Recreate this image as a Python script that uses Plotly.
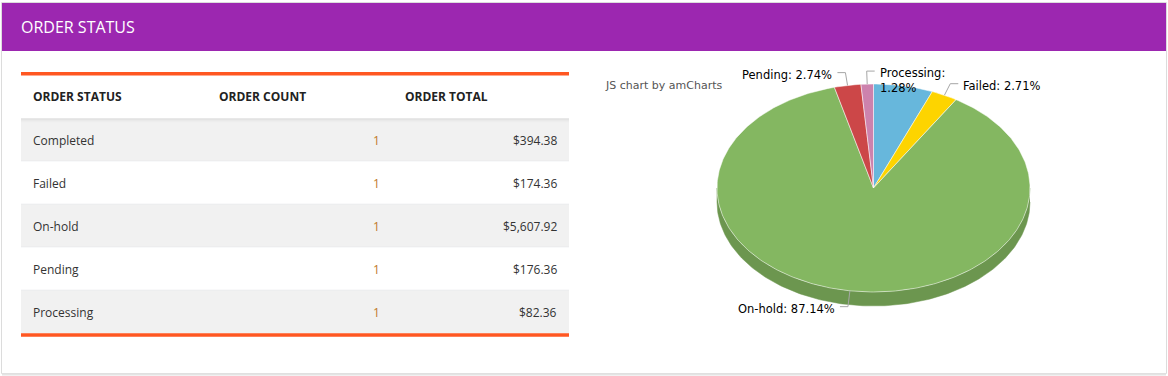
import numpy as np
import plotly.graph_objects as go

# ---------------- data ----------------
statuses = ["Completed", "Failed", "On-hold", "Pending", "Processing"]
order_counts = [1, 1, 1, 1, 1]
order_totals = [394.38, 174.36, 5607.92, 176.36, 82.36]
columns = ["ORDER STATUS", "ORDER COUNT", "ORDER TOTAL"]
slice_colors = ["#67b7dc", "#fdd400", "#84b761", "#cc4748", "#cd82ad"]

# ---------------- layout constants ----------------
W, H = 1168, 376
FONT = "Open Sans"
PIE_FONT = "DejaVu Sans"
TXT_L, TXT_R = -1, 1   # small nudges compensating glyph bearings

fig = go.Figure()
shapes = []
annotations = []

# panel
shapes.append(dict(type="rect", xref="x", yref="y", x0=1.5, y0=2.5, x1=1166.5, y1=373.5,
                   line=dict(color="#dcdcdc", width=1), fillcolor="white", layer="below"))
shapes.append(dict(type="line", xref="x", yref="y", x0=2, y0=374.5, x1=1166, y1=374.5,
                   line=dict(color="#e4e4e4", width=2), layer="below"))
# header bar
shapes.append(dict(type="rect", xref="x", yref="y", x0=2, y0=3, x1=1166, y1=51,
                   line=dict(width=0), fillcolor="#9c27b0", layer="below"))
annotations.append(dict(x=21 + TXT_L, y=27, xref="x", yref="y", text="ORDER STATUS",
                        showarrow=False, xanchor="left", yanchor="middle", borderpad=0,
                        font=dict(family=FONT, size=16, color="white")))

# ---------------- table ----------------
col_edges = [21, 207, 393, 569]
pad = 12
head_top, head_bot = 75, 118.3
row_h = 43
orange = "#ff5722"

for i, name in enumerate(statuses):
    y0 = head_bot + i * row_h
    y1 = y0 + row_h
    fill = "#f1f1f1" if i % 2 == 0 else "#ffffff"
    shapes.append(dict(type="rect", xref="x", yref="y", x0=col_edges[0], x1=col_edges[-1],
                       y0=y0, y1=y1, line=dict(width=0), fillcolor=fill, layer="below"))
    if i < len(statuses) - 1:
        shapes.append(dict(type="line", xref="x", yref="y", x0=col_edges[0], x1=col_edges[-1],
                           y0=y1, y1=y1, line=dict(color="#dee2e6", width=1), layer="below"))
    yc = (y0 + y1) / 2 + 0.5
    annotations.append(dict(x=col_edges[0] + pad + TXT_L, y=yc, xref="x", yref="y", text=name,
                            showarrow=False, xanchor="left", yanchor="middle", borderpad=0,
                            font=dict(family=FONT, size=12, color="#333333")))
    annotations.append(dict(x=col_edges[2] - pad, y=yc, xref="x", yref="y",
                            text=str(order_counts[i]), showarrow=False, xanchor="right",
                            yanchor="middle", borderpad=0,
                            font=dict(family=FONT, size=12, color="#c07a2a")))
    annotations.append(dict(x=col_edges[3] - pad + TXT_R, y=yc, xref="x", yref="y",
                            text="${:,.2f}".format(order_totals[i]), showarrow=False,
                            xanchor="right", yanchor="middle", borderpad=0,
                            font=dict(family=FONT, size=12, color="#333333")))

# header shadow
for k, a in enumerate([0.07, 0.05, 0.03, 0.015]):
    yy = head_bot + 0.5 + k
    shapes.append(dict(type="line", xref="x", yref="y", x0=col_edges[0], x1=col_edges[-1],
                       y0=yy, y1=yy, line=dict(color=f"rgba(0,0,0,{a})", width=1), layer="below"))

# header labels
for j, c in enumerate(columns):
    annotations.append(dict(x=col_edges[j] + pad + TXT_L, y=(head_top + head_bot) / 2,
                            xref="x", yref="y", text="<b>" + c + "</b>", showarrow=False,
                            xanchor="left", yanchor="middle", borderpad=0,
                            font=dict(family=FONT, size=12, color="#222222")))

# orange rules
tbl_bottom = head_bot + len(statuses) * row_h
shapes.append(dict(type="rect", xref="x", yref="y", x0=col_edges[0], x1=col_edges[-1],
                   y0=72, y1=75.5, line=dict(width=0), fillcolor=orange, layer="below"))
shapes.append(dict(type="rect", xref="x", yref="y", x0=col_edges[0], x1=col_edges[-1],
                   y0=tbl_bottom, y1=tbl_bottom + 3.5, line=dict(width=0), fillcolor=orange,
                   layer="below"))

# ---------------- 3D-ish pie ----------------
cx, cy, rx, ry, depth = 873.5, 188.0, 156.5, 104.0, 14.0
total = float(sum(order_totals))
fracs = np.array(order_totals) / total
starts = np.concatenate([[0.0], np.cumsum(fracs)[:-1]]) * 2 * np.pi
ends = starts + fracs * 2 * np.pi


def arc(a0, a1):
    n = max(3, int(abs(a1 - a0) / (2 * np.pi) * 400))
    t = np.linspace(a0, a1, n)
    return cx + rx * np.sin(t), cy - ry * np.cos(t)


def darker(hexc, f=0.82):
    h = hexc.lstrip("#")
    r, g, b = (int(h[k:k + 2], 16) for k in (0, 2, 4))
    return "rgb({},{},{})".format(int(r * f), int(g * f), int(b * f))


# sides (front half only)
for i in range(len(statuses)):
    lo, hi = max(starts[i], np.pi / 2), min(ends[i], 1.5 * np.pi)
    if hi > lo:
        xs, ys = arc(lo, hi)
        px = np.concatenate([xs, xs[::-1]])
        py = np.concatenate([ys, (ys + depth)[::-1]])
        fig.add_trace(go.Scatter(x=px, y=py, mode="lines", fill="toself",
                                 fillcolor=darker(slice_colors[i]),
                                 line=dict(color=darker(slice_colors[i]), width=0.5),
                                 hoverinfo="skip", showlegend=False))

# top faces
for i in range(len(statuses)):
    xs, ys = arc(starts[i], ends[i])
    px = np.concatenate([[cx], xs, [cx]])
    py = np.concatenate([[cy], ys, [cy]])
    fig.add_trace(go.Scatter(x=px, y=py, mode="lines", fill="toself",
                             fillcolor=slice_colors[i],
                             line=dict(color="rgba(255,255,255,0.5)", width=1),
                             name=statuses[i], hoverinfo="skip", showlegend=False))

# labels with ticks
label_side = {"Failed": 1, "On-hold": -1, "Pending": -1, "Processing": 1}
wrap_labels = {"Processing"}
tick_len, tick_h = 13.0, 8.0
for i, name in enumerate(statuses):
    if name not in label_side:
        continue
    m = (starts[i] + ends[i]) / 2
    ex, ey = cx + rx * np.sin(m), cy - ry * np.cos(m)
    bx = ex + tick_len * np.sin(m)
    by = ey - tick_len * np.cos(m) + (3 if np.cos(m) < 0 else 0)
    side = label_side[name]
    hx = bx + side * tick_h
    fig.add_trace(go.Scatter(x=[ex, bx, hx], y=[ey, by, by], mode="lines",
                             line=dict(color="#a6a6a6", width=1),
                             hoverinfo="skip", showlegend=False))
    pct = "{:.2f}%".format(fracs[i] * 100)
    txt = name + ":" + ("<br>" if name in wrap_labels else " ") + pct
    annotations.append(dict(x=hx + side * 3, y=by - 7, xref="x", yref="y", text=txt,
                            showarrow=False, xanchor="left" if side > 0 else "right",
                            yanchor="top", align="left", borderpad=1,
                            font=dict(family=PIE_FONT, size=11.5, color="#000000")))

annotations.append(dict(x=604, y=85, xref="x", yref="y", text="JS chart by amCharts",
                        showarrow=False, xanchor="left", yanchor="middle", borderpad=0,
                        font=dict(family=PIE_FONT, size=11, color="#555555")))

fig.update_layout(
    width=W, height=H, autosize=False,
    margin=dict(l=0, r=0, t=0, b=0),
    paper_bgcolor="white", plot_bgcolor="white",
    xaxis=dict(range=[0, W], visible=False, fixedrange=True),
    yaxis=dict(range=[H, 0], visible=False, fixedrange=True),
    shapes=shapes, annotations=annotations,
    showlegend=False,
)

fig.write_html("out.html", config={"displayModeBar": False},
               post_script="document.body.style.margin='0';")
